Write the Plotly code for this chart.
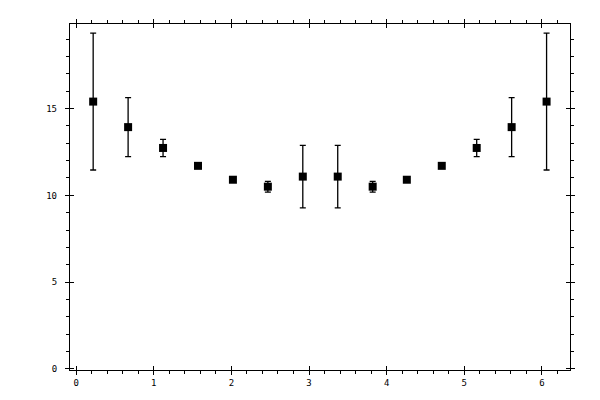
import plotly.graph_objects as go

x_vals = [0.22, 0.67, 1.12, 1.57, 2.02, 2.47, 2.92, 3.37, 3.82, 4.26, 4.71, 5.16, 5.61, 6.06]
y_vals = [15.4, 13.93, 12.73, 11.7, 10.9, 10.5, 11.08, 11.08, 10.5, 10.9, 11.7, 12.73, 13.93, 15.4]
y_err = [3.94, 1.7, 0.5, 0.0, 0.0, 0.31, 1.8, 1.8, 0.31, 0.0, 0.0, 0.5, 1.7, 3.94]

x_ticks = [0, 1, 2, 3, 4, 5, 6]
y_ticks = [0, 5, 10, 15]

XR = [-0.0785, 6.3617]
YR = [-0.06, 19.87]

fig = go.Figure()
fig.add_trace(go.Scatter(
    x=x_vals, y=y_vals, mode="markers",
    marker=dict(symbol="square", size=8, color="black"),
    error_y=dict(type="data", array=y_err, visible=True, color="black",
                 thickness=1.3, width=3),
    showlegend=False,
))
# invisible companion trace so the overlay axes (inner half of major ticks) are drawn
fig.add_trace(go.Scatter(x=x_vals, y=y_vals, mode="markers", xaxis="x2", yaxis="y2",
                         marker=dict(opacity=0), hoverinfo="skip", showlegend=False))

font = dict(family="DejaVu Sans Mono", size=9, color="black")
common = dict(showgrid=False, zeroline=False, showline=True, linecolor="black",
              linewidth=1.3, mirror="ticks", ticks="outside", ticklen=4,
              tickwidth=1.2, tickcolor="black", tickfont=font)

fig.update_layout(
    width=600, height=400,
    margin=dict(l=62, r=38, t=11, b=38),
    paper_bgcolor="white", plot_bgcolor="white",
    xaxis=dict(range=XR, tickmode="array", tickvals=x_ticks, ticktext=[str(v) for v in x_ticks],
               minor=dict(dtick=0.2, tick0=0, ticks="outside", ticklen=3, tickwidth=1, tickcolor="black"),
               **common),
    yaxis=dict(range=YR, tickmode="array", tickvals=y_ticks, ticktext=[str(v) for v in y_ticks],
               minor=dict(dtick=1, tick0=0, ticks="outside", ticklen=3, tickwidth=1, tickcolor="black"),
               ticklabelstandoff=6,
               **common),
    xaxis2=dict(range=XR, overlaying="x", tickmode="array", tickvals=x_ticks, showticklabels=False,
                ticks="inside", ticklen=4, tickwidth=1.2, tickcolor="black", mirror="ticks",
                showline=False, showgrid=False, zeroline=False),
    yaxis2=dict(range=YR, overlaying="y", tickmode="array", tickvals=y_ticks, showticklabels=False,
                ticks="inside", ticklen=4, tickwidth=1.2, tickcolor="black", mirror="ticks",
                showline=False, showgrid=False, zeroline=False),
)

fig.write_html("out.html")
